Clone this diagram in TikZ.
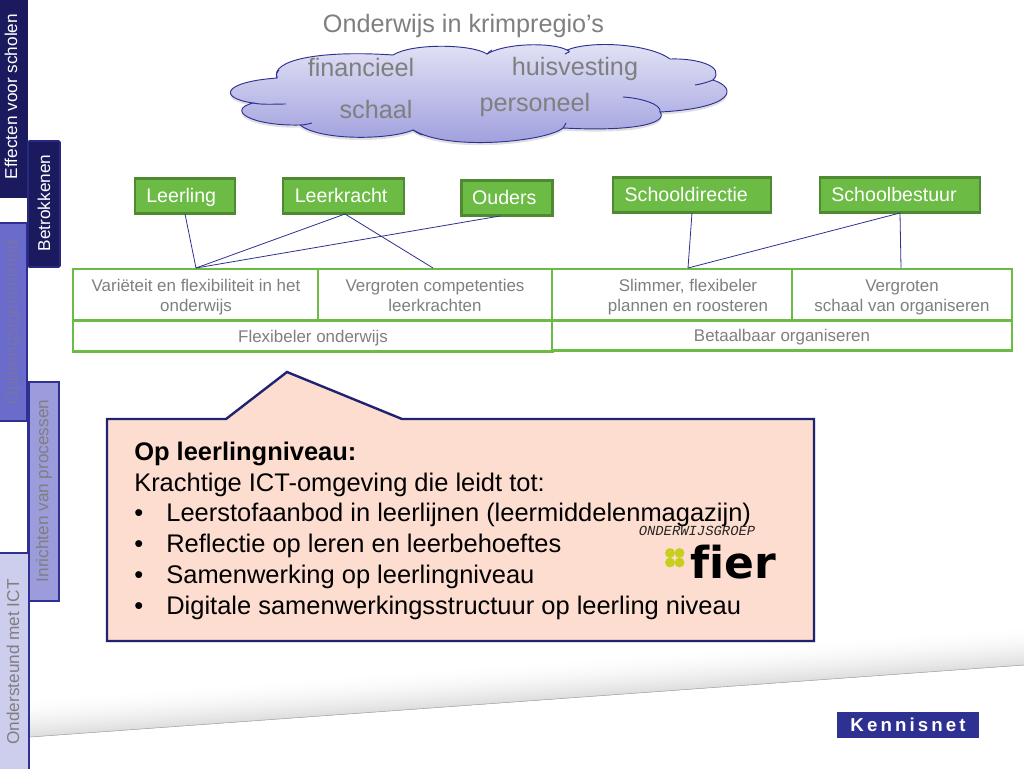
\documentclass[tikz,border=0pt]{standalone}
\usepackage{fontspec}
\setmainfont{Liberation Sans}
\newfontfamily\lmono{Liberation Mono}
\newfontfamily\logofont[Ligatures=NoCommon]{DejaVu Sans}
\usetikzlibrary{shadows}
\definecolor{navy}{HTML}{2E3192}
\definecolor{deepnavy}{HTML}{202372}
\definecolor{darknavy}{HTML}{1B1A5E}
\definecolor{tabb}{HTML}{6B6BCB}
\definecolor{tabc}{HTML}{9C9CDC}
\definecolor{tabd}{HTML}{CDCDEE}
\definecolor{gtxt}{HTML}{7F7F7F}
\definecolor{grn}{HTML}{6CBB45}
\definecolor{dgrn}{HTML}{4F8A32}
\definecolor{peach}{HTML}{FDDDCF}
\definecolor{cloudtop}{HTML}{E4E4F6}
\definecolor{cloudbot}{HTML}{9A9ADC}
\definecolor{clover}{HTML}{C8CE1E}
\newcommand{\lowtext}[1]{\raisebox{-1.5pt}[9pt][3pt]{#1}}
\tikzset{
  x=0.75pt,y=-0.75pt,
  greenbox/.style={draw=dgrn,line width=1.6pt,fill=grn,text=white,inner sep=0pt,font=\fontsize{14.7}{16}\selectfont},
  cellbox/.style={draw=grn,line width=1.8pt,fill=white,text=gtxt,inner sep=0pt,align=center,font=\fontsize{12.7}{15}\selectfont},
  tabtext/.style={rotate=90,font=\fontsize{12.9}{14}\selectfont},
  link/.style={draw=navy,line width=0.6pt},
  inner/.style={draw=navy,line width=0.7pt},
  cloudlabel/.style={text=gtxt,font=\fontsize{18.9}{20}\selectfont,inner sep=0pt},
  bodytext/.style={font=\fontsize{19.1}{23.1}\selectfont,text=black,align=left,inner sep=0pt,anchor=north west}
}
\begin{document}
\begin{tikzpicture}
\useasboundingbox (0,0) rectangle (1024,768);
\fill[white] (0,0) rectangle (1024,768);
% floor swoosh, fading upward from its lower edge
\foreach \d in {40,38,...,0}{
  \pgfmathsetmacro{\shadeval}{14*(1-\d/42)*(1-\d/42)}
  \fill[black!\shadeval] (30,737-\d) -- (1024,665-\d) -- (1024,665) -- (30,737) -- cycle;
}
\draw[black!35,line width=0.4pt] (30,737) -- (1024,665);
% left tabs
\fill[darknavy] (0,0) rectangle (28,198);
\node[tabtext,text=white] (t1) at (11,96.5) {Effecten voor scholen};
\fill[tabb,draw=navy,line width=1.6pt] (-3,223) rectangle (27,421);
\node[tabtext,text=tabb!55!gtxt] (t3) at (13,322) {Opbrengstgerichtheid};
\fill[tabd,draw=navy,line width=1.6pt] (-3,553) -- (29,553) -- (29,770) -- (-3,770) -- cycle;
\node[tabtext,text=gtxt] (t5) at (13,662) {Ondersteund met ICT};
\draw[navy,line width=1.6pt] (28,198) -- (28,223);
\draw[navy,line width=1.6pt] (28,421) -- (28,553);
\fill[darknavy,draw=navy!70!darknavy,line width=1.2pt,rounded corners=1pt] (28,141) rectangle (60,267);
\node[tabtext,text=white] (t2) at (44,203) {Betrokkenen};
\fill[tabc,draw=navy,line width=1.6pt] (29,382) rectangle (59,601);
\node[tabtext,text=gtxt] (t4) at (44,491) {Inrichten van processen};
% cloud
\path[draw=navy,line width=0.7pt,top color=cloudtop,bottom color=cloudbot,drop shadow={shadow xshift=0pt,shadow yshift=-2pt,opacity=0.25}]
 (277,78) .. controls (270,60) and (320,50) .. (393,55)
 .. controls (412,43) and (472,44) .. (487,54)
 .. controls (505,43) and (552,42) .. (567,50)
 .. controls (592,40) and (650,44) .. (670,59)
 .. controls (696,58) and (726,66) .. (713,80)
 .. controls (738,88) and (735,108) .. (660,112)
 .. controls (668,122) and (640,132) .. (563,128)
 .. controls (548,141) and (450,152) .. (413,130)
 .. controls (390,140) and (320,141) .. (300,125)
 .. controls (250,126) and (226,110) .. (253,103)
 .. controls (218,98) and (222,82) .. (277,78) -- cycle;
\draw[inner] (277,78) .. controls (276,75) and (276,73) .. (279,70);
\draw[inner] (253,103) .. controls (262,105) and (275,104) .. (286,104);
\draw[inner] (300,125) .. controls (304,125) and (308,124) .. (312,123);
\draw[inner] (413,130) .. controls (416,132) and (419,134) .. (423,135);
\draw[inner] (487,54) .. controls (489,52) and (490,51) .. (492,50);
\draw[inner] (567,50) .. controls (572,52) and (568,52) .. (565,54);
\draw[inner] (713,80) .. controls (708,82) and (702,84) .. (695,85);
\draw[inner] (623,97) .. controls (640,98) and (662,104) .. (660,112);
\draw[inner] (563,128) .. controls (564,127) and (565,125) .. (566,123);
% titles
\node[text=gtxt,font=\fontsize{18.9}{20}\selectfont,inner sep=0pt] (title) at (463.5,25.5) {Onderwijs in krimpregio’s};
\node[cloudlabel] (c1) at (361,67) {financieel};
\node[cloudlabel] (c2) at (575,68.5) {huisvesting};
\node[cloudlabel] (c3) at (376,109) {schaal};
\node[cloudlabel] (c4) at (535,104.5) {personeel};
% stakeholder boxes
\node[greenbox,minimum width=75pt,minimum height=26.2pt,text width=58pt,align=left] (leerling) at (185,196) {\lowtext{Leerling}};
\node[greenbox,minimum width=90.7pt,minimum height=26.2pt,text width=73pt,align=left] (leerkracht) at (343.5,196) {\lowtext{Leerkracht}};
\node[greenbox,minimum width=68.2pt,minimum height=26.2pt] (ouders) at (507,198) {\hspace*{-4pt}\lowtext{Ouders}};
\node[greenbox,minimum width=118.5pt,minimum height=26.2pt,text width=101pt,align=left] (directie) at (692,195) {\lowtext{Schooldirectie}};
\node[greenbox,minimum width=120pt,minimum height=26.2pt,text width=103pt,align=left] (bestuur) at (900,195) {\lowtext{Schoolbestuur}};
% table left
\node[cellbox,minimum width=184.5pt,minimum height=39pt] (v1) at (196,295) {\lowtext{Variëteit en flexibiliteit in het}\\\lowtext{onderwijs}};
\node[cellbox,minimum width=175.5pt,minimum height=39pt] (v2) at (435,295) {\lowtext{Vergroten competenties}\\\lowtext{leerkrachten}};
\node[cellbox,minimum width=360pt,minimum height=23.2pt] (flex) at (313,336) {\lowtext{Flexibeler onderwijs}};
% table right
\node[cellbox,minimum width=180pt,minimum height=39pt] (s1) at (672,295) {\hspace*{24pt}\lowtext{Slimmer, flexibeler}\\\hspace*{24pt}\lowtext{plannen en roosteren}};
\node[cellbox,minimum width=165pt,minimum height=39pt] (s2) at (902,295) {\lowtext{Vergroten}\\\lowtext{schaal van organiseren}};
\node[cellbox,minimum width=345pt,minimum height=22.5pt] (bet) at (782,335.5) {\lowtext{Betaalbaar organiseren}};
% connectors
\coordinate (a1) at (196,268);
\coordinate (a2) at (433,268);
\coordinate (a3) at (688,268);
\coordinate (a4) at (901,268);
\coordinate (l1) at (185,214);
\coordinate (l2) at (345,214);
\coordinate (l3) at (500,216);
\coordinate (l4) at (692,213);
\coordinate (l5) at (900,213);
\draw[link] (l1) -- (a1);
\draw[link] (l2) -- (a1);
\draw[link] (l2) -- (a2);
\draw[link] (l3) -- (a1);
\draw[link] (l4) -- (a3);
\draw[link] (l5) -- (a3);
\draw[link] (l5) -- (a4);
% callout
\path[draw=deepnavy,line width=1.8pt,fill=peach,drop shadow={shadow xshift=1pt,shadow yshift=-1pt,opacity=0.2}]
 (107,419) -- (226,419) -- (287,372) -- (402,419) -- (814,419) -- (814,641) -- (107,641) -- cycle;
\node[bodytext] (body) at (134,441.5) {\textbf{Op leerlingniveau:}\\Krachtige ICT-omgeving die leidt tot:\\
•\hspace{17.4pt}Leerstofaanbod in leerlijnen (leermiddelenmagazijn)\\
•\hspace{17.4pt}Reflectie op leren en leerbehoeftes\\
•\hspace{17.4pt}Samenwerking op leerlingniveau\\
•\hspace{17.4pt}Digitale samenwerkingsstructuur op leerling niveau};
% fier logo
\node[inner sep=0pt,font=\fontsize{10.4}{11}\selectfont\lmono\itshape,text=black!85] (ow) at (697,531) {ONDERWIJSGROEP};
\fill[clover] (670,553) circle (3.7pt);
\fill[clover] (679.5,553) circle (3.7pt);
\fill[clover] (670,562.5) circle (3.7pt);
\fill[clover] (679.5,562.5) circle (3.7pt);
\node[inner sep=0pt,anchor=base,font=\fontsize{33}{33}\selectfont\logofont\bfseries,text=black] (fier) at (733,578) {fier};
% kennisnet
\node[fill=navy,text=white,minimum width=106.5pt,minimum height=19.5pt,inner sep=0pt,font=\fontsize{14}{15}\selectfont\bfseries] (kn) at (908,725) {K\,e\,n\,n\,i\,s\,n\,e\,t};
\end{tikzpicture}
\end{document}
